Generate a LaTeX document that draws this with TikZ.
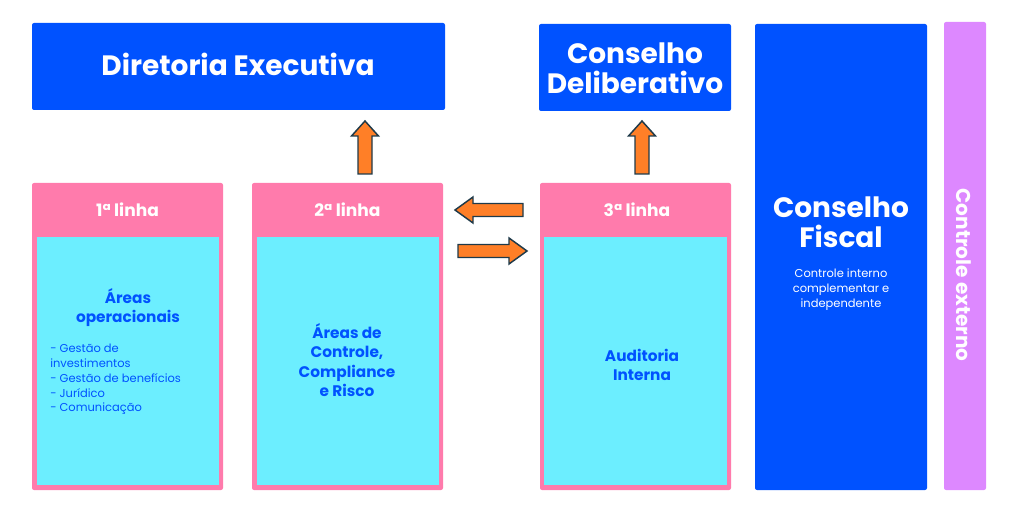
\documentclass[tikz,border=0pt]{standalone}
\usepackage{fontspec}
\setmainfont{Poppins}
\definecolor{cblue}{HTML}{0052FF}
\definecolor{cpink}{HTML}{FF7BAC}
\definecolor{ccyan}{HTML}{6CEEFF}
\definecolor{cviolet}{HTML}{DD88FF}
\definecolor{corange}{HTML}{FF7F27}
\definecolor{cedge}{HTML}{1F3A4A}
\tikzset{
  bluebox/.style={rectangle, fill=cblue, draw=none, rounded corners=1.5pt, inner sep=0pt, text=white, align=center},
  pinkbox/.style={rectangle, fill=cpink, draw=none, rounded corners=1.5pt, inner sep=0pt},
  cyanbox/.style={rectangle, fill=ccyan, draw=none, inner sep=0pt},
  bigtxt/.style={font=\bfseries\fontsize{21}{22.5}\selectfont, text=white, align=center, inner sep=0pt},
  headtxt/.style={font=\bfseries\fontsize{12.8}{14}\selectfont, text=white, inner sep=0pt},
  midtxt/.style={font=\bfseries\fontsize{11.5}{14.5}\selectfont, text=cblue, align=center, inner sep=0pt},
  smalltxt/.style={font=\fontsize{8.6}{11.2}\selectfont, inner sep=0pt},
  blockarrow/.style={fill=corange, draw=cedge, line width=1.1pt, line join=miter},
}
\begin{document}
\begin{tikzpicture}[x=0.75pt,y=-0.75pt]
\useasboundingbox (0,0) rectangle (1024,531);
% top boxes
\node[bluebox, minimum width={413*0.75pt}, minimum height={87*0.75pt}] (dir) at (238.5,66.5) {};
\node[bigtxt] (dirt) at (238,64) {Diretoria Executiva};
\node[bluebox, minimum width={192*0.75pt}, minimum height={87*0.75pt}] (cdel) at (635,67.5) {};
\node[bigtxt] (cdelt) at (635,68) {Conselho\\Deliberativo};
\node[bluebox, minimum width={172*0.75pt}, minimum height={466*0.75pt}] (fis) at (841,257) {};
\node[bigtxt] (fist) at (841,222) {Conselho\\Fiscal};
\node[smalltxt, text=white, align=center] (fiss) at (841,290) {Controle interno\\complementar e\\independente};
\node[rectangle, fill=cviolet, rounded corners=1.5pt, minimum width={42*0.75pt}, minimum height={468*0.75pt}, inner sep=0pt] (ext) at (965,256) {};
\node[font=\bfseries\fontsize{15}{16}\selectfont, text=white, inner sep=0pt, rotate=-90] (extt) at (964,275) {Controle externo};
% lines
\node[pinkbox, minimum width={191*0.75pt}, minimum height={307*0.75pt}] (l1) at (127.5,336.5) {};
\node[cyanbox, minimum width={182*0.75pt}, minimum height={248*0.75pt}] (c1) at (128,361) {};
\node[headtxt] (h1) at (127.5,210) {1ª linha};
\node[midtxt] (t1) at (128,307.5) {Áreas\\operacionais};
\node[smalltxt, text=cblue, align=left, anchor=north west] (s1) at (50,343.5) {- Gestão de\\investimentos\\- Gestão de benefícios\\- Jurídico\\- Comunicação};

\node[pinkbox, minimum width={191*0.75pt}, minimum height={307*0.75pt}] (l2) at (347.5,336.5) {};
\node[cyanbox, minimum width={182*0.75pt}, minimum height={248*0.75pt}] (c2) at (347.5,361) {};
\node[headtxt] (h2) at (347.5,210) {2ª linha};
\node[midtxt] (t2) at (347,360) {Áreas de\\Controle,\\Compliance\\e Risco};

\node[pinkbox, minimum width={191*0.75pt}, minimum height={307*0.75pt}] (l3) at (635.5,336.5) {};
\node[cyanbox, minimum width={183*0.75pt}, minimum height={248*0.75pt}] (c3) at (635.5,361) {};
\node[headtxt] (h3) at (637,210) {3ª linha};
\node[midtxt] (t3) at (642,365) {Auditoria\\Interna};

% arrows
\coordinate (u1) at (365,174);
\coordinate (u2) at (642,174);
\foreach \c in {u1,u2}{
  \draw[blockarrow] ([shift={(-7,0)}]\c) -- ++(0,-38) -- ++(-6.5,0) -- ++(13.5,-15) -- ++(13.5,15) -- ++(-6.5,0) -- ++(0,38) -- cycle;
}
\coordinate (la) at (523,210);
\draw[blockarrow] ([shift={(0,-6.5)}]la) -- ++(-50,0) -- ++(0,-6.5) -- ++(-18,13) -- ++(18,13) -- ++(0,-6.5) -- ++(50,0) -- cycle;
\coordinate (ra) at (458,251);
\draw[blockarrow] ([shift={(0,-6.5)}]ra) -- ++(51,0) -- ++(0,-6.5) -- ++(18,13) -- ++(-18,13) -- ++(0,-6.5) -- ++(-51,0) -- cycle;
\end{tikzpicture}
\end{document}
